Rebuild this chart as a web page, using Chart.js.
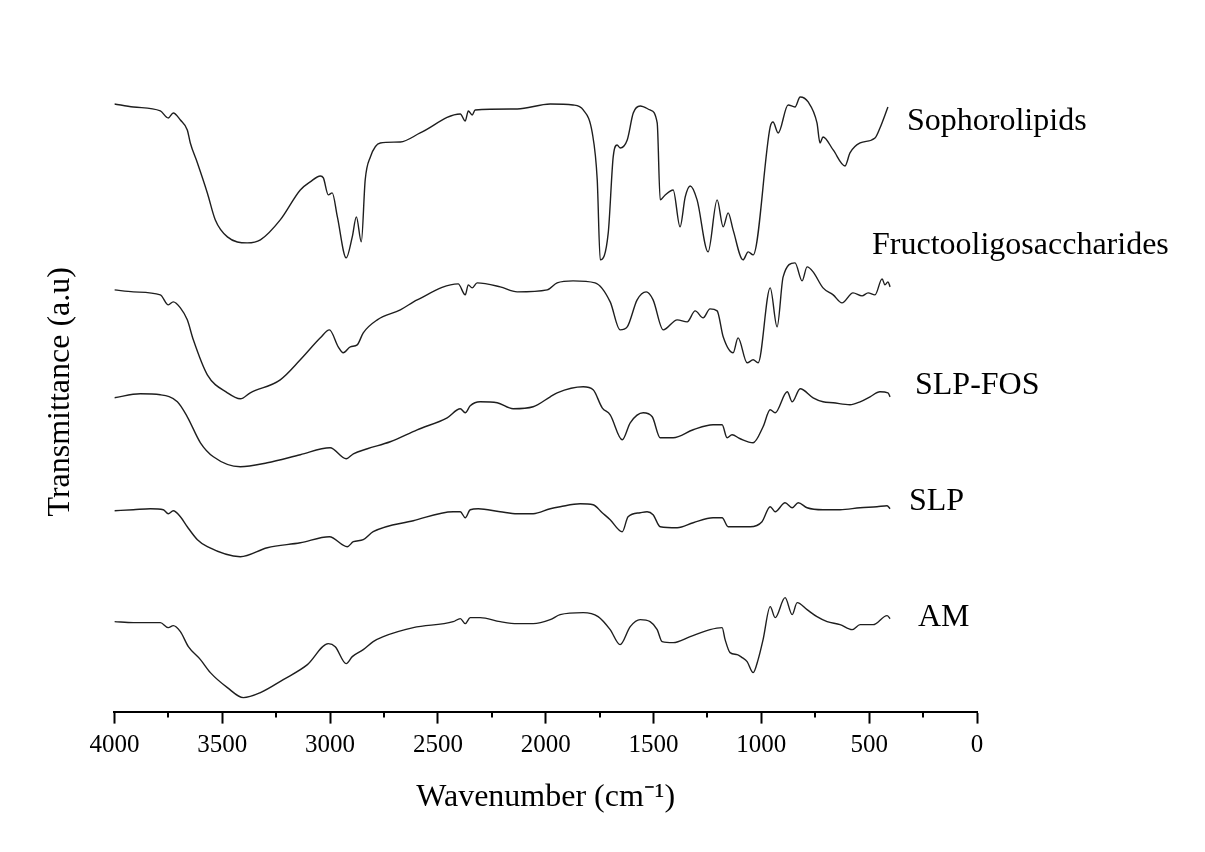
<!DOCTYPE html>
<html>
<head>
<meta charset="utf-8">
<title>FTIR spectra</title>
<script src="https://cdn.jsdelivr.net/npm/chart.js@4.4.0/dist/chart.umd.min.js"></script>
<style>
body { margin: 0; background: #ffffff; }
#wrap { width: 1205px; height: 852px; }
</style>
</head>
<body>
<div id="wrap"><canvas id="ftirChart" width="1205" height="852"></canvas></div>
<script>
//spectra data (wavenumber cm-1 / transmittance a.u.) -start
var sophoWn = [4000,3912,3787,3750,3727,3694,3662,3648,3615,3569,3532,3476,3384,3323,3231,3138,3092,3045,3031,3008,2990,2966,2925,2897,2878,2855,2837,2813,2767,2674,2582,2396,2373,2359,2341,2327,2132,1979,1873,1826,1784,1761,1747,1710,1687,1669,1655,1622,1594,1562,1516,1483,1469,1446,1409,1377,1353,1330,1298,1247,1205,1177,1154,1131,1085,1061,1038,959,946,922,876,844,820,783,742,728,714,667,612,589,542,473,450,413];
var sophoVal = [608,605,601,594,599,592,582,569,549,519,492,475,469,472,492,522,530,536,534,517,519,495,454,475,495,470,532,555,569,570,579,598,591,601,597,602,603,608,607,602,579,532,452,479,555,567,564,572,599,606,602,589,512,517,522,485,515,526,512,460,512,485,499,482,452,460,457,585,590,579,607,605,615,610,589,569,575,562,546,559,569,574,584,605];

var fosWn = [4000,3912,3787,3750,3727,3694,3662,3634,3569,3476,3416,3370,3231,3138,3045,3003,2962,2939,2906,2874,2846,2781,2674,2596,2406,2373,2359,2341,2318,2211,2132,1993,1947,1873,1771,1701,1655,1622,1576,1534,1502,1455,1390,1344,1307,1270,1238,1205,1177,1131,1108,1066,1038,1015,959,927,899,844,811,788,760,714,667,626,575,533,505,473,440,427,413,403];
var fosVal = [422,420,417,407,410,404,392,372,337,319,313,319,332,352,374,382,365,359,365,367,379,392,402,412,428,417,427,424,429,425,420,422,429,431,429,410,382,385,412,420,412,382,392,390,401,394,403,401,375,359,374,349,352,349,424,385,435,449,431,445,440,424,417,409,419,416,419,417,433,427,430,425];

var slpFosWn = [4000,3880,3787,3708,3662,3601,3541,3416,3291,3138,3000,2925,2892,2827,2721,2596,2457,2396,2373,2350,2304,2225,2151,2058,1979,1947,1826,1780,1738,1701,1645,1608,1548,1506,1469,1409,1316,1224,1182,1159,1136,1098,1038,992,959,936,880,857,820,760,714,667,589,542,496,450,413,403];
var slpFosVal = [314,318,317,310,295,269,255,245,249,257,264,253,258,263,270,282,294,303,299,306,310,309,303,305,315,319,325,322,304,297,272,289,299,295,274,274,282,287,287,274,277,273,269,285,302,299,320,310,323,314,310,309,307,310,315,320,319,315];

var slpWn = [4000,3912,3833,3773,3750,3727,3694,3662,3615,3569,3416,3291,3138,3003,2920,2892,2846,2800,2614,2429,2396,2373,2350,2313,2211,2132,2058,1979,1933,1840,1780,1738,1701,1645,1618,1562,1530,1502,1469,1390,1316,1224,1182,1154,1052,997,959,936,890,857,829,788,714,635,542,464,417,403];
var slpVal = [201,202,203,202,198,201,195,185,172,165,155,164,169,175,165,170,172,180,191,200,200,194,202,203,200,198,198,203,205,208,207,199,192,180,195,199,200,197,185,184,189,194,194,185,185,190,205,200,209,204,209,204,202,202,204,205,206,203];

var amWn = [4000,3912,3833,3787,3750,3727,3694,3657,3601,3555,3476,3402,3323,3217,3105,3008,2976,2925,2897,2846,2800,2753,2614,2429,2396,2373,2350,2304,2211,2132,2058,1979,1933,1826,1757,1701,1655,1608,1562,1516,1483,1460,1409,1330,1238,1182,1168,1145,1112,1089,1066,1038,1015,992,959,936,890,857,834,788,742,695,635,579,542,482,417,403];
var amVal = [90,89,89,89,84,86,80,65,52,39,24,14,19,32,47,68,65,48,55,62,70,75,84,90,93,88,94,94,90,88,88,92,97,99,95,82,67,85,92,90,82,70,69,75,82,84,72,59,57,54,50,39,52,72,105,94,114,97,109,102,95,90,87,82,87,87,96,93];

var seriesNames = ['Sophorolipids', 'Fructooligosaccharides', 'SLP-FOS', 'SLP', 'AM'];
var xTicks = [4000, 3500, 3000, 2500, 2000, 1500, 1000, 500, 0];
var xMinorTicks = [3750, 3250, 2750, 2250, 1750, 1250, 750, 250];
//spectra data -end

//series label positions (px) -start
var labelX = [907, 872, 915, 909, 918];
var labelY = [122, 246, 386, 502, 618];
//series label positions -end

function toPoints(wn, val) {
	var pts = [];
	for (var i = 0; i < wn.length; i++) {
		pts.push({ x: wn[i], y: val[i] });
	}
	return pts;
}

var allWn = [sophoWn, fosWn, slpFosWn, slpWn, amWn];
var allVal = [sophoVal, fosVal, slpFosVal, slpVal, amVal];
var datasets = [];
for (var s = 0; s < seriesNames.length; s++) {
	datasets.push({
		label: seriesNames[s],
		data: toPoints(allWn[s], allVal[s]),
		borderColor: '#1e1e1e',
		borderWidth: 1.4,
		pointRadius: 0,
		fill: false,
		cubicInterpolationMode: 'monotone'
	});
}

//minor ticks + series names -start
var ftirExtras = {
	id: 'ftirExtras',
	afterDraw: function(chart) {
		var ctx = chart.ctx;
		var xs = chart.scales.x;
		ctx.save();
		ctx.strokeStyle = '#000';
		ctx.lineWidth = 2;
		for (var i = 0; i < xMinorTicks.length; i++) {
			var px = Math.round(xs.getPixelForValue(xMinorTicks[i]));
			ctx.beginPath();
			ctx.moveTo(px, xs.top);
			ctx.lineTo(px, xs.top + 6);
			ctx.stroke();
		}
		ctx.fillStyle = '#000';
		ctx.font = '32px "Liberation Serif", "Times New Roman", serif';
		ctx.textAlign = 'left';
		ctx.textBaseline = 'middle';
		for (var j = 0; j < seriesNames.length; j++) {
			ctx.fillText(seriesNames[j], labelX[j], labelY[j]);
		}
		ctx.restore();
	}
};
//minor ticks + series names -end

var serif = '"Liberation Serif", "Times New Roman", serif';
var ftirCanvas = document.getElementById('ftirChart').getContext('2d');
var ftirChart = new Chart(ftirCanvas, {
	type: 'line',
	data: { datasets: datasets },
	plugins: [ftirExtras],
	options: {
		responsive: false,
		animation: false,
		devicePixelRatio: 1,
		layout: { padding: { left: 37, right: 228, top: 72, bottom: 31 } },
		plugins: {
			legend: { display: false },
			tooltip: { enabled: false }
		},
		scales: {
			x: {
				type: 'linear',
				reverse: true,
				min: 0,
				max: 4000,
				afterBuildTicks: function(axis) {
					axis.ticks = xTicks.map(function(v) { return { value: v }; });
				},
				ticks: {
					color: '#000',
					font: { family: serif, size: 25 },
					padding: 7,
					maxRotation: 0,
					autoSkip: false,
					callback: function(value) { return String(value); }
				},
				grid: {
					display: true,
					drawOnChartArea: false,
					drawTicks: true,
					tickLength: 12,
					tickColor: '#000',
					tickWidth: 2
				},
				border: { display: true, color: '#000', width: 2 },
				title: {
					display: true,
					text: 'Wavenumber (cm\u207B\u00B9)',
					color: '#000',
					font: { family: serif, size: 32 },
					padding: { top: 11, bottom: 4 }
				}
			},
			y: {
				min: 0,
				max: 640,
				ticks: { display: false },
				grid: { display: false, drawTicks: false },
				border: { display: false },
				title: {
					display: true,
					text: 'Transmittance (a.u)',
					color: '#000',
					font: { family: serif, size: 32 },
					padding: { top: 4, bottom: 35 }
				}
			}
		}
	}
});
</script>
</body>
</html>
